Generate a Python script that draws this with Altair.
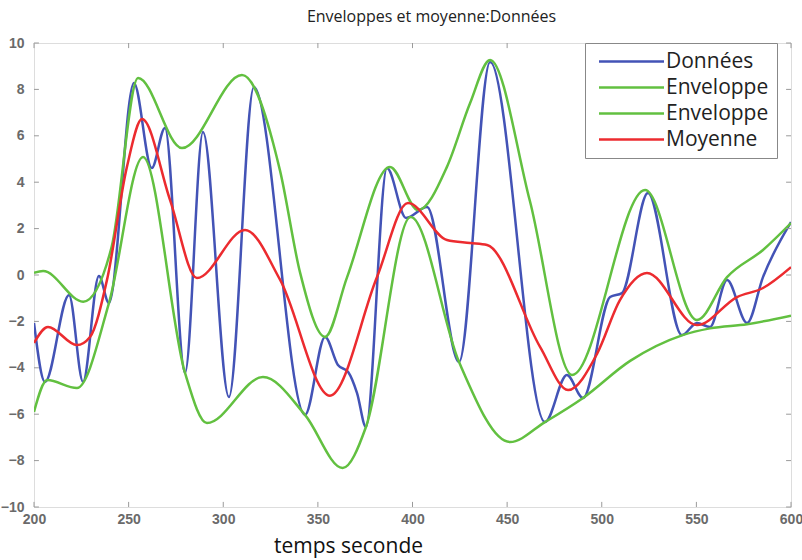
import altair as alt
import pandas as pd

# Temps (s) et valeurs de chaque courbe, relevés aux extrema et points d'inflexion
donnees_t = [200, 205.8, 218.5, 225.9, 234.3, 239.6, 252.8, 262.2, 269.2, 279.8,
             289.3, 303.0, 316.2, 343.2, 353.8, 360.6, 366.0, 370.7, 375.4, 386.5,
             396.6, 407.7, 424.6, 441.0, 470.0, 481.6, 490.1, 504.4, 510.7, 524.4,
             542.4, 550.3, 557.2, 566.2, 576.8, 585.2, 600]
donnees_v = [-2.07, -4.61, -0.86, -4.61, -0.04, -1.21, 8.28, 4.61, 6.34, -4.22,
             6.16, -5.26, 8.10, -6.03, -2.67, -3.88, -4.18, -5.09, -6.55, 4.61,
             2.46, 2.93, -3.75, 9.18, -6.34, -4.31, -5.30, -0.95, -0.78, 3.53,
             -2.59, -2.07, -2.24, -0.22, -2.07, -0.09, 2.28]

env_haute_t = [200, 204.8, 226, 241, 255, 278.2, 309.9, 330, 340.6, 353.8,
               365.4, 388.1, 403, 418.2, 430.4, 441, 462, 484.3, 522.9, 550.3,
               566.2, 585.2, 600]
env_haute_v = [0.09, 0.17, -1.15, 1.2, 8.49, 5.47, 8.62, 4.5, 0.1, -2.67,
               -0.1, 4.66, 2.8, 4.66, 7.4, 9.27, 3.2, -4.31, 3.66, -1.94,
               -0.09, 1.08, 2.24]

env_basse_t = [200, 207, 222.7, 239.6, 257.6, 279.8, 291.4, 321, 343.2, 363.1,
               375.4, 399, 424.6, 451.5, 470, 490.1, 515, 542.4, 557.2, 576.8, 600]
env_basse_v = [-5.9, -4.53, -4.87, -1.21, 5.09, -4.22, -6.38, -4.4, -6.03, -8.32,
               -6.55, 2.5, -3.75, -7.2, -6.34, -5.3, -3.7, -2.6, -2.3, -2.12, -1.75]

moyenne_t = [200, 207.4, 222.7, 229.6, 238.6, 249.1, 257.1, 271.9, 286.1, 311.5,
             330, 356.4, 381.2, 397.6, 418.2, 430.4, 439.4, 467.4, 482.2, 497.5,
             509.6, 523.9, 550.3, 571.5, 585.2, 600]
moyenne_v = [-2.93, -2.24, -3.02, -2.67, -0.2, 4.66, 6.72, 3.23, -0.13, 1.94,
             -0.2, -5.2, -0.1, 3.1, 1.51, 1.38, 1.29, -3.1, -4.96, -3.4,
             -1.08, 0.09, -2.16, -0.95, -0.56, 0.34]

x_ticks = [200, 250, 300, 350, 400, 450, 500, 550, 600]
y_ticks = [-10, -8, -6, -4, -2, 0, 2, 4, 6, 8, 10]

noms = ["Données", "Enveloppe haute", "Enveloppe basse", "Moyenne"]
couleurs = ["#4353b6", "#62c040", "#62c040", "#ec2b2f"]

rows = []
for nom, ts, vs in zip(noms,
                       [donnees_t, env_haute_t, env_basse_t, moyenne_t],
                       [donnees_v, env_haute_v, env_basse_v, moyenne_v]):
    for i, (t, v) in enumerate(zip(ts, vs)):
        rows.append({"t": t, "v": v, "serie": nom, "ordre": i})
df = pd.DataFrame(rows)

x_scale = alt.Scale(domain=[200, 600], nice=False, zero=False)
y_scale = alt.Scale(domain=[-10, 10], nice=False, zero=False)

label_style = dict(labelFont="Liberation Sans", labelFontSize=14, labelFontWeight="bold",
                   labelColor="#6a6a6a", ticks=False, domain=False, grid=False,
                   labelFlush=False)

courbes = alt.Chart(df).mark_line(interpolate="monotone", strokeWidth=2.5, clip=True).encode(
    x=alt.X("t:Q", scale=x_scale,
            axis=alt.Axis(values=x_ticks, title="temps seconde", labelPadding=5,
                          titleFont="Open Sans", titleFontSize=21, titleFontWeight="normal",
                          titleColor="#111", titleX=314, titleY=28, titleAlign="center",
                          titleBaseline="top", **label_style)),
    y=alt.Y("v:Q", scale=y_scale,
            axis=alt.Axis(values=y_ticks, title=None, labelPadding=10, **label_style)),
    color=alt.Color("serie:N", sort=noms,
                    scale=alt.Scale(domain=noms, range=couleurs),
                    legend=alt.Legend(
                        title=None, orient="none", legendX=551, legendY=0,
                        direction="vertical",
                        symbolType="M-1,0H9", symbolSize=169, symbolStrokeWidth=2.5,
                        symbolOffset=2,
                        labelFont="Open Sans", labelFontSize=21, labelColor="#222",
                        labelOffset=50, rowPadding=4, padding=8,
                        strokeColor="#888", fillColor="white",
                        labelExpr="indexof(datum.label, 'Enveloppe') == 0 ? 'Enveloppe' : datum.label")),
    detail="serie:N",
    order="ordre:Q",
)

# Graduations tournées vers l'intérieur du cadre
tx = pd.DataFrame({"t": x_ticks})
ty = pd.DataFrame({"v": y_ticks})
tick_color = "#9a9a9a"

bas = alt.Chart(tx).transform_calculate(a="-10", b="-9.78").mark_rule(color=tick_color).encode(
    x=alt.X("t:Q", scale=x_scale),
    y=alt.Y("a:Q", scale=y_scale), y2="b:Q")
haut = alt.Chart(tx).transform_calculate(a="10", b="9.78").mark_rule(color=tick_color).encode(
    x=alt.X("t:Q", scale=x_scale),
    y=alt.Y("a:Q", scale=y_scale), y2="b:Q")
gauche = alt.Chart(ty).transform_calculate(a="200", b="202.6").mark_rule(color=tick_color).encode(
    y=alt.Y("v:Q", scale=y_scale),
    x=alt.X("a:Q", scale=x_scale), x2="b:Q")
droite = alt.Chart(ty).transform_calculate(a="600", b="597.4").mark_rule(color=tick_color).encode(
    y=alt.Y("v:Q", scale=y_scale),
    x=alt.X("a:Q", scale=x_scale), x2="b:Q")

chart = alt.layer(courbes, bas, haut, gauche, droite).properties(
    width=757, height=464,
    autosize=alt.AutoSizeParams(type="none"),
    padding={"left": 34, "top": 43, "right": 11, "bottom": 53},
    title=alt.TitleParams("Enveloppes et moyenne:Données", font="Open Sans", fontSize=16,
                          fontWeight="normal", color="#222", anchor="middle", frame="group",
                          dx=19, dy=21, offset=19, baseline="alphabetic"),
).configure_view(stroke="#9a9a9a", strokeWidth=1.5).configure(background="white")

chart.save("out.html", embed_options={"renderer": "svg", "actions": False})
